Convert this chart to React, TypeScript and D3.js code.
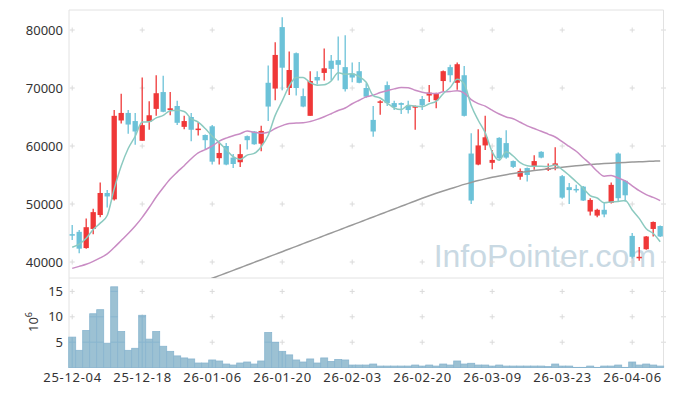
import React from "react";
import * as d3 from "d3";

// ---------- data ----------
const dates = [
  "25-12-04","25-12-05","25-12-08","25-12-09","25-12-10","25-12-11","25-12-12","25-12-15","25-12-16","25-12-17",
  "25-12-18","25-12-19","25-12-22","25-12-23","25-12-24","25-12-26","25-12-29","25-12-30","26-01-02","26-01-05",
  "26-01-06","26-01-07","26-01-08","26-01-09","26-01-12","26-01-13","26-01-14","26-01-15","26-01-16","26-01-19",
  "26-01-20","26-01-21","26-01-22","26-01-23","26-01-26","26-01-27","26-01-28","26-01-29","26-01-30","26-02-02",
  "26-02-03","26-02-04","26-02-05","26-02-06","26-02-09","26-02-10","26-02-11","26-02-12","26-02-13","26-02-19",
  "26-02-20","26-02-23","26-02-24","26-02-25","26-02-26","26-02-27","26-03-03","26-03-04","26-03-05","26-03-06",
  "26-03-09","26-03-10","26-03-11","26-03-12","26-03-13","26-03-16","26-03-17","26-03-18","26-03-19","26-03-20",
  "26-03-23","26-03-24","26-03-25","26-03-26","26-03-27","26-03-30","26-03-31","26-04-01","26-04-02","26-04-03",
  "26-04-06","26-04-07","26-04-08","26-04-09","26-04-10",
];

const opens = [
  44800,45200,42400,45700,48100,51900,50800,64400,65700,64300,
  60900,64200,66400,69300,66200,66900,63300,65000,62900,61900,
  63400,57900,60000,58000,57200,61700,62500,60400,70900,69900,
  80500,70000,76000,68600,65200,71900,72600,74700,74800,73600,
  72500,72900,70000,64500,67600,70500,67400,67400,66900,66600,
  68100,68700,67900,71200,73600,70900,72200,58700,56800,60100,
  57100,61400,60500,57400,54700,56200,56400,59000,55900,56600,
  54800,52900,52600,53000,48700,48000,49000,50200,58700,54000,
  44500,40700,42200,45700,46200,
];
const highs = [
  46400,45500,47500,49200,53700,52400,66200,69000,66200,65700,
  71800,67700,72200,72100,69300,67800,65200,65700,64100,62000,
  63600,60600,60500,58600,60300,61800,62600,63500,73900,77900,
  82200,76300,76100,69900,72900,72900,76800,75700,78900,79100,
  74400,74500,70800,66900,67900,71100,67800,67500,67800,67000,
  68600,70500,69200,73000,74000,74400,73800,62200,62900,65200,
  59300,61500,62700,57500,56100,56300,58400,59100,57000,59800,
  55000,53600,53300,53100,51000,49200,50300,53700,58900,54100,
  45000,42600,44500,47000,46300,
];
const lows = [
  43800,41500,42300,44800,47700,49400,50600,63900,62100,60200,
  60900,62800,65200,65800,65300,63600,62900,60800,61800,59400,
  56800,56800,56700,56200,56400,59400,60200,59100,64300,67900,
  69600,68800,68700,66700,65200,70600,71300,71300,71300,69400,
  71000,70800,68300,61600,65400,66900,66200,65500,65600,62800,
  66200,67600,66500,69400,71000,69700,65100,50000,56700,59300,
  56000,57500,57800,56200,54200,53900,55900,57900,55700,55800,
  50900,50000,52000,50500,48000,47700,47700,50100,50400,50400,
  40600,40200,42100,44400,44300,
];
const closes = [
  44700,42300,46000,48600,51900,51300,65200,65700,63700,62500,
  63600,65300,69100,65900,66500,64000,64300,62800,63000,61000,
  57300,58800,56800,56900,58600,61000,60300,62600,66800,75700,
  73500,73100,70000,66800,71200,71300,73400,73300,74000,69800,
  71800,70900,68500,62500,67700,67400,66700,67100,66200,66900,
  67000,69200,69100,72900,72200,74100,65200,50600,60100,61500,
  57600,57900,58000,56400,55700,55000,57400,58000,56200,57000,
  51100,52400,52500,50600,50700,49000,48200,53300,51000,51500,
  40900,40900,44400,46900,44400,
];

// volume, in millions (10^6)
const volumes = [
  6.0,3.4,7.3,10.6,11.4,4.8,15.9,7.1,3.4,3.8,
  10.3,5.6,7.1,4.2,3.2,2.3,1.9,1.7,0.9,0.9,
  1.5,1.3,0.7,0.5,0.9,1.1,0.7,1.3,6.9,5.0,
  3.2,2.5,1.5,1.1,1.7,0.9,1.9,1.2,1.6,1.5,
  0.5,0.5,0.5,0.7,0.3,0.3,0.3,0.3,0.3,0.5,
  0.3,0.5,0.3,0.7,0.5,1.3,0.7,0.85,0.5,0.5,
  0.3,0.5,0.3,0.3,0.3,0.3,0.3,0.3,0.2,0.7,
  0.3,0.3,0.05,0.05,0.3,0.05,0.3,0.3,0.5,0.05,
  1.1,0.5,0.7,0.5,0.3,
];

// moving averages: first values come from data before the visible window
const ma5Head = [42550, 43100, 44100, 45600];
const ma20Head = [
  38900,39250,39600,40100,40700,41400,42500,43700,44900,46200,
  47700,49400,51200,52800,54300,55500,56600,57800,58800,
];
// long moving average (grey); null where it lies below the panel
const maLong = [
  null,null,null,null,null,null,null,null,null,null,
  null,null,null,null,null,null,null,null,36300,36750,
  37200,37650,38100,38560,39020,39480,39940,40400,40860,41320,
  41780,42240,42700,43160,43620,44080,44540,45000,45460,45920,
  46380,46840,47300,47760,48220,48680,49140,49600,50060,50520,
  50980,51420,51840,52240,52620,53000,53380,53720,54040,54330,
  54600,54840,55060,55260,55440,55610,55770,55920,56060,56200,
  56340,56470,56590,56700,56800,56890,56970,57040,57110,57170,
  57230,57280,57330,57380,57420,
];

const priceTicks = [40000, 50000, 60000, 70000, 80000];
const volTicks = [5, 10, 15];
const xTickEvery = 10;

// ---------- layout ----------
const W = 673;
const H = 396;
const L = 69;
const R = 663.5;
const PT = 10;
const PB = 278;
const VB = 367.5;

const UP = "#ef3838";
const DOWN = "#6cc2d8";
const FONT = "'Noto Sans', 'DejaVu Sans', sans-serif";

export default function App() {
  const idx = d3.range(dates.length);
  const x = d3.scaleBand<number>().domain(idx).range([68.7, 663.7]).padding(0);
  const bw = x.bandwidth();
  const cx = (i: number) => (x(i) as number) + bw / 2;
  const y = d3.scaleLinear().domain([40000, 80000]).range([262, 30]);
  const yv = d3.scaleLinear().domain([0, 15]).range([367.6, 291.4]);

  const ma5 = closes.map((_, i) => (i < 4 ? ma5Head[i] : (d3.mean(closes.slice(i - 4, i + 1)) as number)));
  const ma20 = closes.map((_, i) => (i < 19 ? ma20Head[i] : (d3.mean(closes.slice(i - 19, i + 1)) as number)));

  const lineGen = d3
    .line<number | null>()
    .defined((v) => v != null)
    .x((_, i) => cx(i))
    .y((v) => y(v as number))
    .curve(d3.curveMonotoneX);

  const tickIdx = idx.filter((i) => i % xTickEvery === 0);
  const crossXs = [...tickIdx.map(cx), R];
  const crossYs = [...priceTicks.map((t) => y(t)), ...volTicks.map((t) => yv(t))];
  const bodyW = bw * 0.76;

  return (
    <svg
      width={W}
      height={H}
      style={{ position: "absolute", left: 0, top: 0, background: "#fff" }}
      fontFamily={FONT}
    >
      <defs>
        <clipPath id="priceClip">
          <rect x={L} y={PT} width={R - L} height={PB - PT} />
        </clipPath>
        <clipPath id="volClip">
          {idx.map((i) => (
            <rect
              key={i}
              x={x(i)}
              y={yv(volumes[i])}
              width={bw}
              height={yv(0) - yv(volumes[i])}
            />
          ))}
        </clipPath>
      </defs>

      {/* watermark */}
      <text
        x={656}
        y={267}
        textAnchor="end"
        fontFamily="'Liberation Sans', Arial, sans-serif"
        fontSize={32}
        fill="#c9d9e3"
      >
        InfoPointer.com
      </text>

      {/* grid crosses */}
      <g stroke="#dadada" strokeWidth={1}>
        {crossXs.map((gx, a) =>
          crossYs.map((gy, b) => (
            <g key={`${a}-${b}`}>
              <line x1={gx - 2.5} x2={gx + 2.5} y1={gy} y2={gy} />
              <line x1={gx} x2={gx} y1={gy - 2.5} y2={gy + 2.5} />
            </g>
          ))
        )}
      </g>

      {/* frame */}
      <g stroke="#e2e2e2" strokeWidth={1} fill="none">
        <line x1={L} x2={R} y1={PT} y2={PT} />
        <line x1={L} x2={R} y1={PB} y2={PB} />
        <line x1={L} x2={R} y1={VB} y2={VB} />
        <line x1={L} x2={L} y1={PT} y2={VB} />
        <line x1={R} x2={R} y1={PT} y2={VB} />
      </g>

      {/* volume bars */}
      <g>
        {idx.map((i) => (
          <rect
            key={i}
            x={x(i)}
            y={yv(volumes[i])}
            width={bw}
            height={yv(0) - yv(volumes[i])}
            fill="#9cc1d3"
            stroke="#89b5cf"
            strokeWidth={0.8}
          />
        ))}
        <g clipPath="url(#volClip)" stroke="#89b5cf" strokeWidth={1}>
          {volTicks.map((t) => (
            <line key={`h${t}`} x1={L} x2={R} y1={yv(t)} y2={yv(t)} />
          ))}
          {tickIdx.map((i) => (
            <line key={`v${i}`} x1={cx(i)} x2={cx(i)} y1={PB} y2={VB} />
          ))}
        </g>
      </g>

      {/* candles */}
      <g clipPath="url(#priceClip)">
        {idx.map((i) => {
          const up = closes[i] >= opens[i];
          const col = up ? UP : DOWN;
          const top = y(Math.max(opens[i], closes[i]));
          const bot = y(Math.min(opens[i], closes[i]));
          return (
            <g key={i}>
              <line x1={cx(i)} x2={cx(i)} y1={y(highs[i])} y2={y(lows[i])} stroke={col} strokeWidth={1.3} />
              <rect
                x={cx(i) - bodyW / 2}
                y={top}
                width={bodyW}
                height={Math.max(1.5, bot - top)}
                fill={col}
              />
            </g>
          );
        })}

        {/* moving averages */}
        <path d={lineGen(maLong) || ""} fill="none" stroke="#9a9a9a" strokeWidth={1.5} />
        <path d={lineGen(ma20) || ""} fill="none" stroke="#c98cc4" strokeWidth={1.5} />
        <path d={lineGen(ma5) || ""} fill="none" stroke="#8ccac0" strokeWidth={1.5} />
      </g>

      {/* y-axis labels (price) */}
      <g fontSize={13} fill="#333" textAnchor="end">
        {priceTicks.map((t) => (
          <text key={t} x={63} y={y(t)} dy="0.36em">
            {t}
          </text>
        ))}
        {volTicks.map((t) => (
          <text key={t} x={63} y={yv(t)} dy="0.36em">
            {t}
          </text>
        ))}
      </g>

      {/* volume unit */}
      <text transform="translate(38,332) rotate(-90)" fontSize={13} fill="#333">
        10
        <tspan dy={-6} fontSize={9}>
          6
        </tspan>
      </text>

      {/* x-axis labels */}
      <g fontSize={13} fill="#333" textAnchor="middle" letterSpacing={0.7}>
        {tickIdx.map((i) => (
          <text key={i} x={cx(i) + 0.35} y={381.7}>
            {dates[i]}
          </text>
        ))}
      </g>
    </svg>
  );
}
